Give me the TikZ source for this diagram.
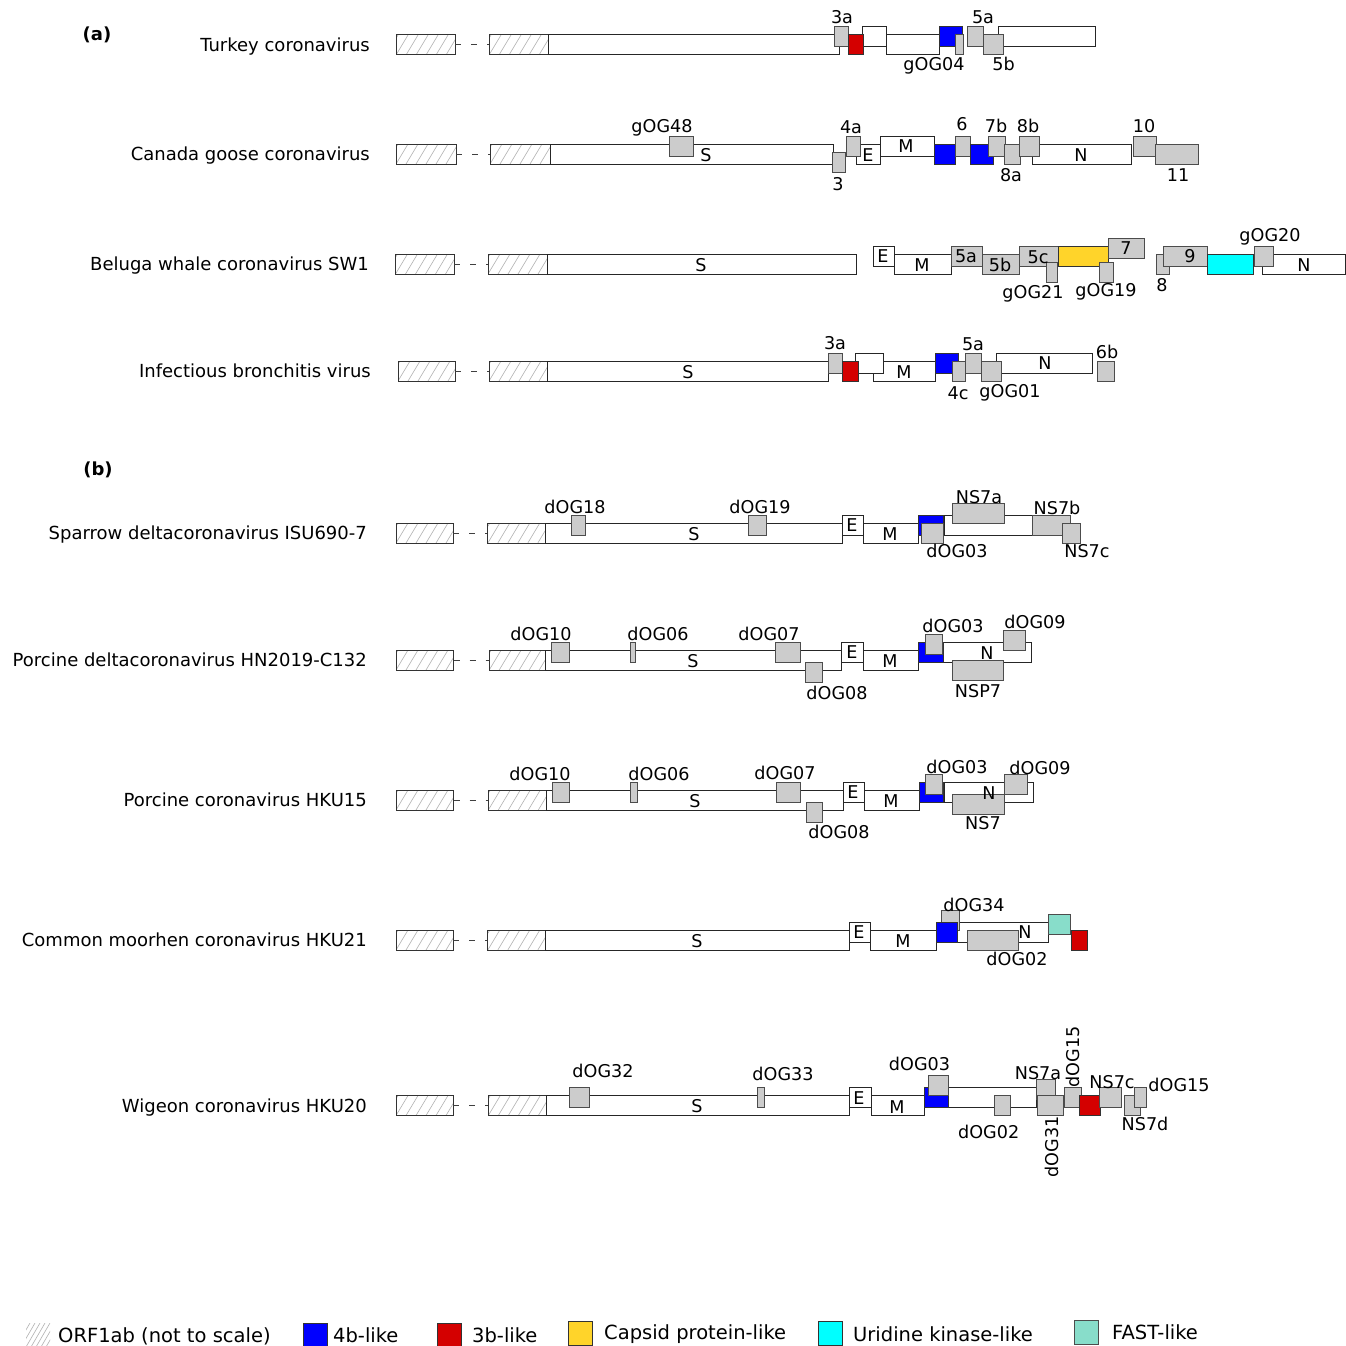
\documentclass[tikz,border=0pt]{standalone}
\usepackage{fontspec}
\setmainfont{DejaVu Sans}
\definecolor{gfill}{HTML}{CCCCCC}
\definecolor{blueb}{HTML}{0000FF}
\definecolor{redb}{HTML}{D40000}
\definecolor{capsid}{HTML}{FFD42A}
\definecolor{uridine}{HTML}{00FFFF}
\definecolor{fastc}{HTML}{88DDCA}
\newcommand\lblf{\fontsize{17.6}{20}\selectfont}
\newcommand\rowf{\fontsize{18}{20}\selectfont}
\newcommand\lgdf{\fontsize{19.5}{22}\selectfont}
% box: style, x1, x2, row centre, offset
\newcommand\bx[5]{\draw[#1] (#2,{#4+#5-10}) rectangle (#3,{#4+#5+10});}
% inside label: x, row centre, offset, text
\newcommand\inl[4]{\node[inlab] at (#1,{#2+#3}) {#4};}
% outside label: x, visual centre y, text
\newcommand\lb[3]{\node[lab] at (#1,{#2+6.4}) {#3};}
% hatched ORF1ab box: x1, x2, centre
\newcommand\hatchbox[3]{%
  \begin{scope}
    \clip (#1,{#3-10}) rectangle (#2,{#3+10});
    \foreach \i in {-20,-10,...,70} \draw[hatchline] ({#1+\i},{#3+10}) -- ++(12,-20);
  \end{scope}
  \draw[hbox] (#1,{#3-10}) rectangle (#2,{#3+10});}
\newcommand\dashc[3]{\draw[dashline] (#1,#3) -- (#2,#3);}
\newcommand\rowlab[3]{\node[inner sep=0pt,font=\rowf,anchor=base east] at (#1,{#2+6.5}) {#3};}
\begin{document}
\begin{tikzpicture}[x=1pt,y=-1pt,
  wbox/.style={draw=black!85,fill=white,line width=1pt},
  gbox/.style={draw=black!70,fill=gfill,line width=1pt},
  bbox/.style={draw=black!80,fill=blueb,line width=1pt},
  rbox/.style={draw=black!80,fill=redb,line width=1pt},
  ybox/.style={draw=black!80,fill=capsid,line width=1pt},
  cbox/.style={draw=black!80,fill=uridine,line width=1pt},
  fbox/.style={draw=black!70,fill=fastc,line width=1pt},
  hbox/.style={draw=black!80,line width=1pt},
  hatchline/.style={draw=black!30,line width=0.6pt},
  dashline/.style={draw=black!75,line width=1pt,dash pattern=on 6pt off 10pt},
  inlab/.style={inner sep=0pt,font=\lblf,anchor=center},
  lab/.style={inner sep=0pt,font=\lblf,anchor=base},
  lgd/.style={inner sep=0pt,font=\lgdf,anchor=base west}]
\useasboundingbox (0,0) rectangle (1346,1346);
\fill[white] (0,0) rectangle (1346,1346);

\node[inner sep=0pt,font=\rowf\bfseries] (pa) at (97,35) {(a)};
\node[inner sep=0pt,font=\rowf\bfseries] (pb) at (98,470) {(b)};

% ---------------- Turkey coronavirus (c=45)
\rowlab{370}{45}{Turkey coronavirus}
\hatchbox{396}{455}{45}\dashc{455}{489}{45}\hatchbox{489}{548}{45}
\bx{wbox}{548}{839}{45}{0}
\bx{wbox}{862}{886}{45}{-8}
\bx{wbox}{886}{939}{45}{0}
\bx{wbox}{998}{1095}{45}{-8}
\bx{gbox}{834}{848.5}{45}{-8}
\bx{rbox}{848.5}{863.6}{45}{0}
\bx{bbox}{939}{962}{45}{-8}
\bx{gbox}{955}{963.7}{45}{0}
\bx{gbox}{967.5}{983}{45}{-8}
\bx{gbox}{983}{1003}{45}{0}
\lb{842}{17}{3a}\lb{934}{64}{gOG04}\lb{983}{17}{5a}\lb{1003.6}{64}{5b}

% ---------------- Canada goose coronavirus (c=154)
\rowlab{370}{154}{Canada goose coronavirus}
\hatchbox{396}{456}{154}\dashc{456}{490}{154}\hatchbox{490}{550}{154}
\bx{wbox}{550}{833}{154}{0}
\bx{wbox}{856}{880}{154}{0}
\bx{wbox}{880}{934}{154}{-8}
\bx{wbox}{1032.6}{1131}{154}{0}
\bx{gbox}{669}{693}{154}{-8}
\bx{gbox}{832}{845.4}{154}{8}
\bx{gbox}{846}{860}{154}{-8}
\bx{bbox}{934}{955}{154}{0}
\bx{gbox}{955}{970}{154}{-8}
\bx{bbox}{970}{993}{154}{0}
\bx{gbox}{988}{1005}{154}{-8}
\bx{gbox}{1004}{1020}{154}{0}
\bx{gbox}{1019}{1039}{154}{-8}
\bx{gbox}{1133.6}{1156}{154}{-8}
\bx{gbox}{1155}{1198}{154}{0}
\inl{706}{155}{0}{S}\inl{868}{155}{0}{E}\inl{906}{154}{-8}{M}\inl{1081}{155}{0}{N}
\lb{662}{126}{gOG48}\lb{851}{127}{4a}\lb{962}{124}{6}\lb{996}{126}{7b}
\lb{1028}{126}{8b}\lb{1144}{126}{10}\lb{838}{184}{3}\lb{1011}{175}{8a}\lb{1178}{175}{11}

% ---------------- Beluga whale coronavirus SW1 (c=264)
\rowlab{369}{264}{Beluga whale coronavirus SW1}
\hatchbox{395.5}{454.3}{264}\dashc{454.3}{488}{264}\hatchbox{488}{547}{264}
\bx{wbox}{547}{856}{264}{0}
\bx{wbox}{873}{894}{264}{-8}
\bx{wbox}{894}{951}{264}{0}
\bx{wbox}{1262}{1345}{264}{0}
\bx{gbox}{951}{982}{264}{-8}
\bx{gbox}{982}{1019}{264}{0}
\bx{gbox}{1019}{1058}{264}{-8}
\bx{gbox}{1046}{1057}{264}{8}
\bx{ybox}{1058}{1108}{264}{-8}
\bx{gbox}{1108}{1144}{264}{-16}
\bx{gbox}{1099}{1113}{264}{8}
\bx{gbox}{1156}{1169}{264}{0}
\bx{gbox}{1163}{1207}{264}{-8}
\bx{cbox}{1207}{1253}{264}{0}
\bx{gbox}{1254}{1273}{264}{-8}
\inl{701}{265}{0}{S}\inl{883}{256}{0}{E}\inl{922}{265}{0}{M}
\inl{966}{256}{0}{5a}\inl{1000}{265}{0}{5b}\inl{1038}{257}{0}{5c}
\inl{1126}{248}{0}{7}\inl{1190}{256}{0}{9}\inl{1304}{265}{0}{N}
\lb{1033}{292}{gOG21}\lb{1106}{290}{gOG19}\lb{1162}{285}{8}\lb{1270}{235}{gOG20}

% ---------------- Infectious bronchitis virus (c=371)
\rowlab{371}{371}{Infectious bronchitis virus}
\hatchbox{398}{455}{371}\dashc{455}{489}{371}\hatchbox{489}{547.5}{371}
\bx{wbox}{547.5}{828.6}{371}{0}
\bx{wbox}{873}{935}{371}{0}
\bx{wbox}{855}{883}{371}{-8}
\bx{wbox}{996}{1092}{371}{-8}
\bx{gbox}{828.6}{842}{371}{-8}
\bx{rbox}{842}{858}{371}{0}
\bx{bbox}{935}{958}{371}{-8}
\bx{gbox}{952.7}{965}{371}{0}
\bx{gbox}{965}{981}{371}{-8}
\bx{gbox}{981}{1001}{371}{0}
\bx{gbox}{1097}{1114}{371}{0}
\inl{688}{372}{0}{S}\inl{904}{372}{0}{M}\inl{1045}{363}{0}{N}
\lb{835}{343}{3a}\lb{973}{344}{5a}\lb{1107}{352}{6b}\lb{958}{393}{4c}\lb{1010}{391}{gOG01}

% ---------------- Sparrow deltacoronavirus ISU690-7 (c=533)
\rowlab{367}{533}{Sparrow deltacoronavirus ISU690-7}
\hatchbox{396}{453.3}{533}\dashc{453.3}{487.8}{533}\hatchbox{487.8}{545.2}{533}
\bx{wbox}{545.2}{842}{533}{0}
\bx{wbox}{842}{863}{533}{-8}
\bx{wbox}{863}{918}{533}{0}
\bx{wbox}{944.5}{1032.6}{533}{-8}
\bx{gbox}{571.8}{585.5}{533}{-8}
\bx{gbox}{748.5}{766.4}{533}{-8}
\bx{bbox}{918}{943}{533}{-8}
\bx{gbox}{921.5}{943}{533}{0}
\bx{gbox}{952.7}{1004}{533}{-20}
\bx{gbox}{1032.6}{1070.7}{533}{-8}
\bx{gbox}{1062.4}{1080}{533}{0}
\inl{694}{534}{0}{S}\inl{852}{525}{0}{E}\inl{890}{534}{0}{M}
\lb{575}{507}{dOG18}\lb{760}{507}{dOG19}\lb{979}{497}{NS7a}\lb{1057}{508}{NS7b}
\lb{957}{551}{dOG03}\lb{1087}{551}{NS7c}

% ---------------- Porcine deltacoronavirus HN2019-C132 (c=660)
\rowlab{367}{660}{Porcine deltacoronavirus HN2019-C132}
\hatchbox{396}{453.6}{660}\dashc{453.6}{489.2}{660}\hatchbox{489.2}{545.5}{660}
\bx{wbox}{545.5}{841.5}{660}{0}
\bx{wbox}{841.5}{863}{660}{-8}
\bx{wbox}{863}{918}{660}{0}
\bx{wbox}{943}{1031}{660}{-8}
\bx{gbox}{551}{569}{660}{-8}
\bx{gbox}{630}{635.6}{660}{-8}
\bx{gbox}{775}{800}{660}{-8}
\bx{gbox}{805.5}{822}{660}{12}
\bx{bbox}{918}{943}{660}{-8}
\bx{gbox}{925}{942}{660}{-16}
\bx{gbox}{952}{1003.6}{660}{10}
\bx{gbox}{1003.6}{1025}{660}{-20}
\inl{693}{661}{0}{S}\inl{852}{652}{0}{E}\inl{890}{661}{0}{M}\inl{987}{653}{0}{N}
\lb{541}{634}{dOG10}\lb{658}{634}{dOG06}\lb{769}{634}{dOG07}\lb{837}{693}{dOG08}
\lb{953}{626}{dOG03}\lb{1035}{622}{dOG09}\lb{978}{691}{NSP7}

% ---------------- Porcine coronavirus HKU15 (c=800)
\rowlab{367}{800}{Porcine coronavirus HKU15}
\hatchbox{396}{453.7}{800}\dashc{453.7}{488.3}{800}\hatchbox{488.3}{546.8}{800}
\bx{wbox}{546.8}{843.6}{800}{0}
\bx{wbox}{843.6}{864}{800}{-8}
\bx{wbox}{864}{919.5}{800}{0}
\bx{wbox}{944.6}{1033}{800}{-8}
\bx{gbox}{552}{569.4}{800}{-8}
\bx{gbox}{630.5}{637}{800}{-8}
\bx{gbox}{776.5}{800.3}{800}{-8}
\bx{gbox}{806.8}{822.8}{800}{12}
\bx{bbox}{919.5}{943.3}{800}{-8}
\bx{gbox}{925}{942.4}{800}{-16}
\bx{gbox}{952.8}{1004}{800}{4}
\bx{gbox}{1004.8}{1027}{800}{-16}
\inl{695}{801}{0}{S}\inl{853}{792}{0}{E}\inl{891}{801}{0}{M}\inl{989}{793}{0}{N}
\lb{540}{774}{dOG10}\lb{659}{774}{dOG06}\lb{785}{773}{dOG07}\lb{839}{832}{dOG08}
\lb{957}{767}{dOG03}\lb{1040}{768}{dOG09}\lb{983}{823}{NS7}

% ---------------- Common moorhen coronavirus HKU21 (c=940)
\rowlab{367}{940}{Common moorhen coronavirus HKU21}
\hatchbox{396}{453.4}{940}\dashc{453.4}{487.8}{940}\hatchbox{487.8}{545.2}{940}
\bx{wbox}{545.2}{849}{940}{0}
\bx{wbox}{849}{870}{940}{-8}
\bx{wbox}{870}{936}{940}{0}
\bx{wbox}{957.4}{1048}{940}{-8}
\bx{gbox}{941}{959}{940}{-20}
\bx{bbox}{936.3}{957.4}{940}{-8}
\bx{gbox}{967.6}{1018}{940}{0}
\bx{fbox}{1048}{1070}{940}{-16}
\bx{rbox}{1071.8}{1087}{940}{0}
\inl{697}{941}{0}{S}\inl{859}{932}{0}{E}\inl{903}{941}{0}{M}\inl{1025}{932}{0}{N}
\lb{974}{905}{dOG34}\lb{1017}{959}{dOG02}

% ---------------- Wigeon coronavirus HKU20 (c=1105.5)
\rowlab{367}{1105.5}{Wigeon coronavirus HKU20}
\hatchbox{396}{453.4}{1105.5}\dashc{453.4}{488.3}{1105.5}\hatchbox{488.3}{546.3}{1105.5}
\bx{wbox}{546.3}{849}{1105.5}{0}
\bx{wbox}{849}{871}{1105.5}{-8}
\bx{wbox}{871}{924.3}{1105.5}{0}
\bx{wbox}{948.3}{1036.7}{1105.5}{-8}
\bx{gbox}{569.7}{589}{1105.5}{-8}
\bx{gbox}{757}{764}{1105.5}{-8}
\bx{bbox}{924.3}{948.3}{1105.5}{-8}
\bx{gbox}{928.3}{948.3}{1105.5}{-20}
\bx{gbox}{994.3}{1010}{1105.5}{0}
\bx{gbox}{1036}{1055}{1105.5}{-16}
\bx{gbox}{1037.3}{1063.3}{1105.5}{0}
\bx{gbox}{1064}{1081.7}{1105.5}{-8}
\bx{rbox}{1079.3}{1100}{1105.5}{0}
\bx{gbox}{1099.3}{1121}{1105.5}{-8}
\bx{gbox}{1124}{1140}{1105.5}{0}
\bx{gbox}{1134.3}{1146.7}{1105.5}{-8}
\inl{697}{1106}{0}{S}\inl{859}{1098}{0}{E}\inl{897}{1107}{0}{M}
\lb{603}{1071}{dOG32}\lb{783}{1074}{dOG33}\lb{919.5}{1064}{dOG03}\lb{1038}{1073}{NS7a}
\lb{1112}{1082}{NS7c}\lb{1179}{1085}{dOG15}\lb{988.7}{1132}{dOG02}\lb{1145}{1124}{NS7d}
\node[inner sep=0pt,font=\lblf,rotate=90] (d15) at (1073,1057) {dOG15};
\node[inner sep=0pt,font=\lblf,rotate=90] (d31) at (1052,1147) {dOG31};

% ---------------- Legend
\begin{scope}
  \clip (26,1323) rectangle (50,1347);
  \foreach \i in {-20,-15,...,30} \draw[hatchline] ({26+\i},1347) -- ++(14,-24);
\end{scope}
\node[lgd] (l1) at (58,1342) {ORF1ab (not to scale)};
\draw[bbox] (303,1323) rectangle (327,1347);
\node[lgd] (l2) at (333,1342) {4b-like};
\draw[rbox] (437,1323) rectangle (461,1347);
\node[lgd] (l3) at (472,1342) {3b-like};
\draw[ybox] (568,1321) rectangle (592,1345);
\node[lgd] (l4) at (604,1339) {Capsid protein-like};
\draw[cbox] (818,1321) rectangle (842,1345);
\node[lgd] (l5) at (853,1341) {Uridine kinase-like};
\draw[fbox] (1074,1320) rectangle (1098,1344);
\node[lgd] (l6) at (1112,1339) {FAST-like};
\end{tikzpicture}
\end{document}
